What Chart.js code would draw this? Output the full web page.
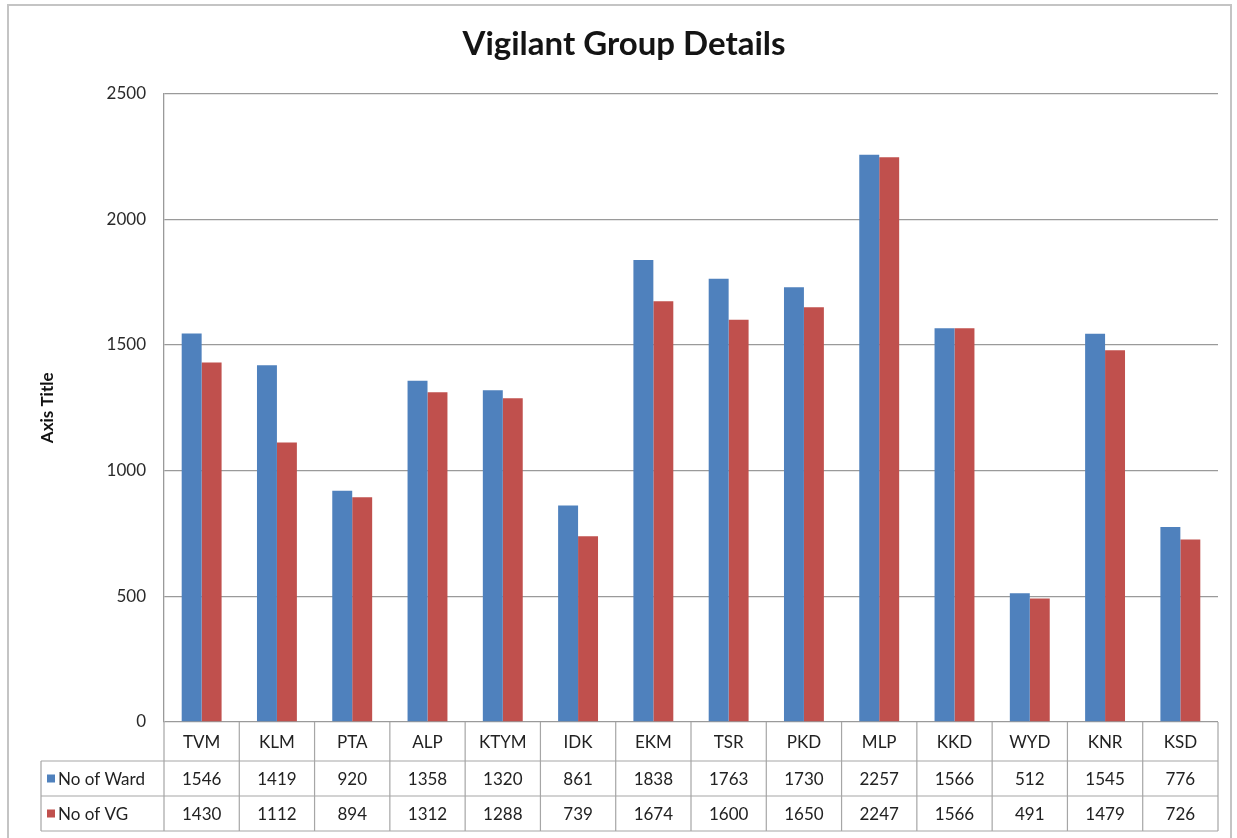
<!DOCTYPE html>
<html>
<head>
<meta charset="utf-8">
<script src="https://cdn.jsdelivr.net/npm/chart.js@4"></script>
<style>
    html, body { margin: 0; padding: 0; background: #fff; }
    #wrap { width: 1237px; height: 838px; }
</style>
</head>
<body>
<div id="wrap"><canvas id="diagram" width="1237" height="838"></canvas></div>
<script>
let districts = ['TVM', 'KLM', 'PTA', 'ALP', 'KTYM', 'IDK', 'EKM', 'TSR', 'PKD', 'MLP', 'KKD', 'WYD', 'KNR', 'KSD'];
let wards = [1546, 1419, 920, 1358, 1320, 861, 1838, 1763, 1730, 2257, 1566, 512, 1545, 776];
let vgs = [1430, 1112, 894, 1312, 1288, 739, 1674, 1600, 1650, 2247, 1566, 491, 1479, 726];
let yTicks = [0, 500, 1000, 1500, 2000, 2500];

let blue = '#4F81BD';
let red = '#C0504D';
let lineColor = '#a6a6a6';
let textColor = '#222';

// data table under the plot, columns follow the x scale
let tablePlugin = {
    id: 'dataTable',
    beforeDraw: (chart) => {
        let ctx = chart.ctx;
        ctx.save();
        ctx.strokeStyle = '#c4c4c4';
        ctx.lineWidth = 2;
        ctx.strokeRect(8, 5, 1223, 850);
        ctx.restore();
    },
    afterDraw: (chart) => {
        let ctx = chart.ctx;
        let x = chart.scales.x;
        let area = chart.chartArea;
        let step = (area.right - area.left) / districts.length;
        let rows = [area.bottom, 761, 796, 831];
        let legendLeft = 41;

        ctx.save();
        ctx.strokeStyle = lineColor;
        ctx.lineWidth = 1.2;
        ctx.beginPath();
        for (let i = 1; i < rows.length; i++) {
            ctx.moveTo(legendLeft, rows[i]);
            ctx.lineTo(area.right, rows[i]);
        }
        ctx.moveTo(legendLeft, rows[1]);
        ctx.lineTo(legendLeft, rows[3]);
        for (let i = 0; i <= districts.length; i++) {
            let px = area.left + i * step;
            ctx.moveTo(px, rows[0]);
            ctx.lineTo(px, rows[3]);
        }
        ctx.stroke();

        ctx.fillStyle = textColor;
        ctx.font = '17px Lato';
        ctx.textAlign = 'center';
        ctx.textBaseline = 'middle';
        districts.forEach((d, i) => {
            let cx = x.getPixelForValue(i);
            ctx.fillText(d, cx, (rows[0] + rows[1]) / 2 + 1);
            ctx.fillText(String(wards[i]), cx, (rows[1] + rows[2]) / 2 + 1);
            ctx.fillText(String(vgs[i]), cx, (rows[2] + rows[3]) / 2 + 1);
        });

        let series = [
            {label: 'No of Ward', color: blue, y: (rows[1] + rows[2]) / 2},
            {label: 'No of VG', color: red, y: (rows[2] + rows[3]) / 2}
        ];
        ctx.textAlign = 'left';
        series.forEach(s => {
            ctx.fillStyle = s.color;
            ctx.fillRect(47, s.y - 4, 8, 8);
            ctx.fillStyle = textColor;
            ctx.fillText(s.label, 58, s.y + 1);
        });
        ctx.restore();
    }
};

let chart = new Chart(document.getElementById('diagram'), {
    type: 'bar',
    data: {
        labels: districts,
        datasets: [
            {label: 'No of Ward', data: wards, backgroundColor: blue},
            {label: 'No of VG', data: vgs, backgroundColor: red}
        ]
    },
    options: {
        responsive: false,
        animation: false,
        layout: {padding: {left: 30, right: 19, top: 0, bottom: 116}},
        datasets: {bar: {categoryPercentage: 0.53, barPercentage: 1}},
        plugins: {
            legend: {display: false},
            tooltip: {enabled: false},
            title: {
                display: true,
                text: 'Vigilant Group Details',
                color: '#141414',
                font: {family: 'Lato', size: 33, weight: 'bold'},
                padding: {top: 25, bottom: 29}
            }
        },
        scales: {
            x: {display: false},
            y: {
                min: 0,
                max: 2500,
                afterFit: (scale) => { scale.width = 134; },
                afterBuildTicks: (scale) => { scale.ticks = yTicks.map(v => ({value: v})); },
                ticks: {
                    color: '#2a2a2a',
                    font: {family: 'Lato', size: 17},
                    padding: 18,
                    callback: (v) => String(v)
                },
                grid: {color: '#9a9a9a', lineWidth: 1.3, drawTicks: false},
                border: {color: '#9a9a9a', width: 1.3},
                title: {
                    display: true,
                    text: 'Axis Title',
                    color: '#111',
                    font: {family: 'Lato', size: 17, weight: 'bold'},
                    padding: {top: 7, bottom: 0}
                }
            }
        }
    },
    plugins: [tablePlugin]
});
</script>
</body>
</html>
